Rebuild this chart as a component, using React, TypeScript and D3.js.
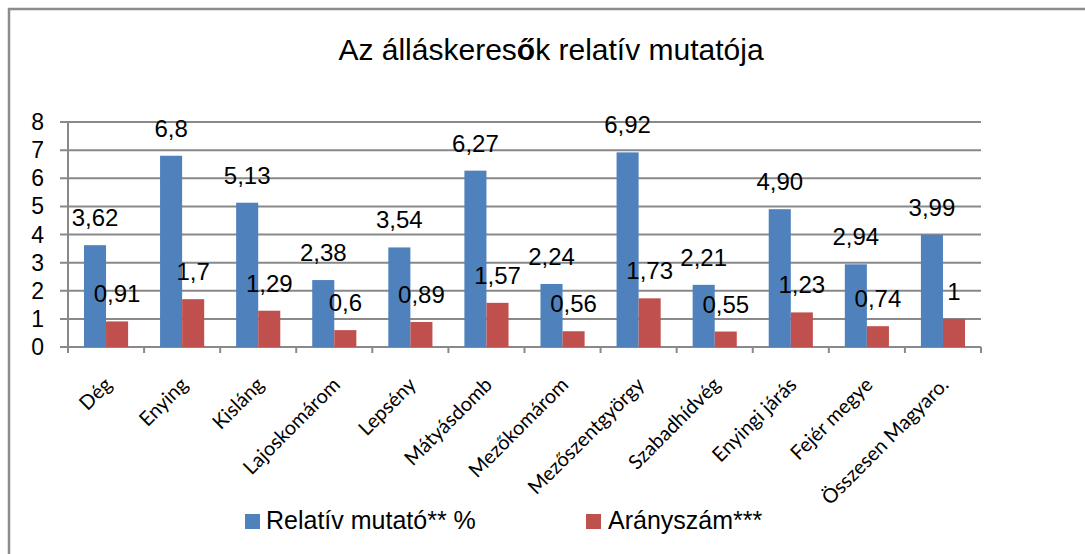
import React from "react";
import * as d3 from "d3";

const categories = ["Dég", "Enying", "Kisláng", "Lajoskomárom", "Lepsény", "Mátyásdomb", "Mezőkomárom", "Mezőszentgyörgy", "Szabadhídvég", "Enyingi járás", "Fejér megye", "Összesen Magyaro."];
const relativ = [3.62, 6.8, 5.13, 2.38, 3.54, 6.27, 2.24, 6.92, 2.21, 4.9, 2.94, 3.99];
const relativLabels = ["3,62", "6,8", "5,13", "2,38", "3,54", "6,27", "2,24", "6,92", "2,21", "4,90", "2,94", "3,99"];
const aranyszam = [0.91, 1.7, 1.29, 0.6, 0.89, 1.57, 0.56, 1.73, 0.55, 1.23, 0.74, 1];
const aranyLabels = ["0,91", "1,7", "1,29", "0,6", "0,89", "1,57", "0,56", "1,73", "0,55", "1,23", "0,74", "1"];
const seriesNames = ["Relatív mutató** %", "Arányszám***"];
const yTicks = [0, 1, 2, 3, 4, 5, 6, 7, 8];

const W = 1085, H = 554;
const BLUE = "#4F81BD", RED = "#C0504D";
const GRID = "#898989";
const NARROW = "'Liberation Sans', Arial, sans-serif";
const XFONT = "Lato, 'Open Sans', sans-serif";

export default function App() {
  const left = 68, right = 981, top = 122, bottom = 347;
  const x0 = d3.scaleBand<string>().domain(categories).range([left, right]).padding(0);
  const groupW = x0.bandwidth() * 0.58;
  const x1 = d3.scaleBand<number>().domain([0, 1]).range([0, groupW]).padding(0);
  const y = d3.scaleLinear().domain([0, 8]).range([bottom, top]);
  const series = [relativ, aranyszam];
  const labels = [relativLabels, aranyLabels];
  const colors = [BLUE, RED];
  const off = (x0.bandwidth() - groupW) / 2;

  return (
    <svg width={W} height={H} style={{ display: "block", position: "absolute", left: 0, top: 0 }}>
      <rect x={0} y={0} width={W} height={H} fill="#fff" />
      <rect x={9} y={9} width={W + 20} height={H + 20} fill="none" stroke="#8c8c8c" strokeWidth={2.5} />
      <text x={551} y={60} textAnchor="middle" fontFamily={NARROW} fontSize={30} fill="#000">
        Az álláskeres<tspan fontWeight="bold">ő</tspan>k relatív mutatója
      </text>
      {yTicks.map((t) => (
        <g key={t}>
          <line x1={60} x2={right} y1={y(t)} y2={y(t)} stroke={GRID} strokeWidth={2} />
          <text x={44} y={y(t) + 8} textAnchor="end" fontFamily={NARROW} fontSize={23} fill="#000">{t}</text>
        </g>
      ))}
      <line x1={left} x2={left} y1={top} y2={bottom} stroke={GRID} strokeWidth={2} />
      {d3.range(categories.length + 1).map((i) => {
        const xx = left + i * x0.step();
        return <line key={i} x1={xx} x2={xx} y1={bottom} y2={bottom + 6} stroke={GRID} strokeWidth={2} />;
      })}
      {series.map((vals, s) =>
        vals.map((v, i) => {
          const bx = (x0(categories[i]) as number) + off + (x1(s) as number);
          return (
            <rect key={`b${s}-${i}`} x={bx} y={y(v)} width={x1.bandwidth()} height={bottom - y(v)} fill={colors[s]} />
          );
        })
      )}
      {series.map((vals, s) =>
        vals.map((v, i) => {
          const cx = (x0(categories[i]) as number) + off + (x1(s) as number) + x1.bandwidth() / 2;
          return (
            <text key={`l${s}-${i}`} x={cx} y={y(v) - 19} textAnchor="middle" fontFamily={NARROW} fontSize={24} fill="#000">
              {labels[s][i]}
            </text>
          );
        })
      )}
      {categories.map((c) => {
        const cx = (x0(c) as number) + x0.bandwidth() / 2 + 7;
        return (
          <text key={c} transform={`translate(${cx},${bottom + 39}) rotate(-45)`} textAnchor="end" fontFamily={XFONT} fontSize={20} fill="#000">
            {c}
          </text>
        );
      })}
      <rect x={245} y={514} width={15} height={15} fill={BLUE} />
      <text x={266} y={529} fontFamily={NARROW} fontSize={25} fill="#000">{seriesNames[0]}</text>
      <rect x={586} y={514} width={15} height={15} fill={RED} />
      <text x={608} y={529} fontFamily={NARROW} fontSize={25} fill="#000">{seriesNames[1]}</text>
    </svg>
  );
}
